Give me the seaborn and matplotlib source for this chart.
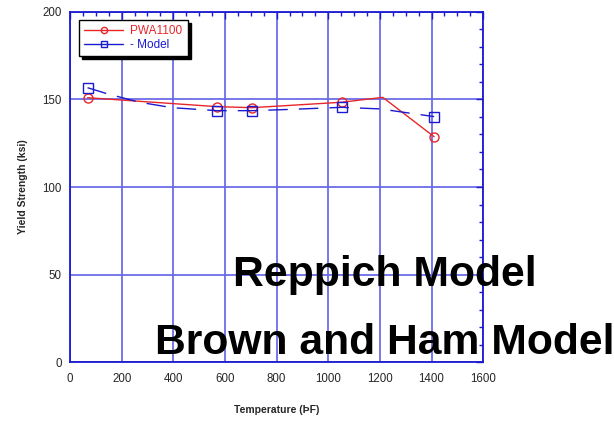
import matplotlib
matplotlib.use("Agg")
import matplotlib.pyplot as plt
from matplotlib.lines import Line2D
from matplotlib.ticker import MultipleLocator
import seaborn as sns

# PWA1100 measured yield strength (ksi) vs temperature (F)
pwa_temp = [68, 568, 704, 1052, 1211, 1410]
pwa_ys = [151.0, 145.9, 145.3, 148.4, 151.2, 128.7]
pwa_marked = [0, 1, 2, 3, 5]

# model curve
model_temp = [68, 150, 270, 395, 568, 704, 850, 1052, 1200, 1410]
model_ys = [156.7, 153.0, 148.4, 145.3, 143.6, 143.6, 144.3, 145.5, 144.6, 140.2]
model_marked = [0, 4, 5, 7, 9]

labels = ["PWA1100", "- Model"]
red = "#e8262a"
blue = "#1a1ad0"

sns.set_style("white")
plt.rcParams["font.family"] = ["Liberation Sans", "DejaVu Sans"]

fig = plt.figure(figsize=(6.14, 4.25), dpi=100)
ax = fig.add_axes([0.114, 0.148, 0.673, 0.824])

sns.lineplot(x=pwa_temp, y=pwa_ys, sort=False, ax=ax, color=red, lw=1,
             marker="o", markevery=pwa_marked, markersize=6.5,
             markerfacecolor="none", markeredgecolor=red, markeredgewidth=1)
sns.lineplot(x=model_temp, y=model_ys, sort=False, ax=ax, color=blue, lw=1,
             linestyle=(0, (14, 8)), marker="s", markevery=model_marked,
             markersize=6.5, markerfacecolor="none", markeredgecolor=blue,
             markeredgewidth=1)

ax.set_xlim(0, 1600)
ax.set_ylim(0, 200)
ax.xaxis.set_major_locator(MultipleLocator(200))
ax.xaxis.set_minor_locator(MultipleLocator(50))
ax.yaxis.set_major_locator(MultipleLocator(50))
ax.yaxis.set_minor_locator(MultipleLocator(10))
ax.grid(True, which="major", color="#6868e8", lw=1.4, alpha=0.9)
ax.set_axisbelow(True)

for s in ax.spines.values():
    s.set_color(blue)
    s.set_linewidth(1.3)
ax.tick_params(which="both", direction="in", top=True, right=True, color=blue,
               labelsize=8.3, width=1)
ax.tick_params(axis="x", which="major", length=5, pad=8)
ax.tick_params(axis="y", which="major", length=5, pad=6)
ax.tick_params(which="minor", length=3)

ax.set_xlabel("Temperature (ÞF)", fontsize=7.5, fontweight="bold", labelpad=14)
ax.set_ylabel("Yield Strength (ksi)", fontsize=7.5, fontweight="bold", labelpad=10)

handles = [
    Line2D([], [], color=red, lw=1, marker="o", markersize=4.5,
           markerfacecolor="none", markeredgecolor=red),
    Line2D([], [], color=blue, lw=1, marker="s", markersize=4.5,
           markerfacecolor="none", markeredgecolor=blue),
]
leg = ax.legend(handles, labels, loc="upper left", bbox_to_anchor=(0.022, 0.977),
                fontsize=8.5, frameon=True, fancybox=False, framealpha=1,
                edgecolor="black", shadow={"color": "black", "alpha": 1},
                handlelength=3.3, borderpad=0.45, labelspacing=0.15,
                handletextpad=0.6, borderaxespad=0)
leg.get_frame().set_linewidth(1)
for txt, c in zip(leg.get_texts(), [red, blue]):
    txt.set_color(c)

fig.text(0.627, 0.327, "Reppich Model", ha="center", va="baseline",
         fontsize=30.7, fontweight="bold", color="black")
fig.text(0.626, 0.168, "Brown and Ham Model", ha="center", va="baseline",
         fontsize=30.7, fontweight="bold", color="black")

fig.savefig("out.png", dpi=100)
